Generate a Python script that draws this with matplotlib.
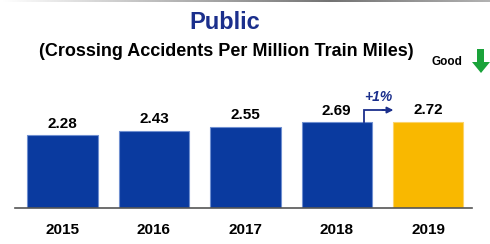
import numpy as np
import matplotlib
matplotlib.use("Agg")
from matplotlib import pyplot as plt
from matplotlib.patches import Polygon

plt.rcParams['font.family'] = ['Liberation Sans', 'DejaVu Sans']

years = ['2015', '2016', '2017', '2018', '2019']
values = [2.28, 2.43, 2.55, 2.69, 2.72]
value_labels = ['2.28', '2.43', '2.55', '2.69', '2.72']
change_label = '+1%'

navy = '#0a3a9f'
gold = '#f9b800'
title_color = '#1b2f8c'

W, H = 490, 244
fig = plt.figure(figsize=(W / 100, H / 100), dpi=100)

# thin gray gradient rule along the top
top = fig.add_axes([0, (H - 2) / H, 1, 2 / H])
grad = np.concatenate([np.linspace(1.0, 0.45, 330), np.linspace(0.45, 0.7, 160)])
top.imshow(grad[np.newaxis, :], cmap='gray', vmin=0, vmax=1, aspect='auto')
top.axis('off')

# bar axes
left, right = 15, 472
base, axtop = 208, 80
ax = fig.add_axes([left / W, (H - base) / H, (right - left) / W, (base - axtop) / H])
colors = [navy] * 4 + [gold]
x = np.arange(len(years))
bars = ax.bar(x, values, width=0.77, color=colors, edgecolor=['#6f8fd0'] * 4 + ['#fbd36a'], linewidth=0.8)
ax.set_xlim(-0.52, 4.48)
ax.set_ylim(0, 128 / 31.8)

for s in ['top', 'right', 'left']:
    ax.spines[s].set_visible(False)
ax.spines['bottom'].set_color('#555555')
ax.spines['bottom'].set_linewidth(1.2)
ax.set_yticks([])
ax.set_xticks(x)
ax.set_xticklabels(years, fontsize=11, fontweight='bold')
ax.tick_params(axis='x', length=0, pad=11)

for xi, v, lab in zip(x, values, value_labels):
    ax.annotate(lab, (xi, v), xytext=(0, 3.5), textcoords='offset points',
                ha='center', va='bottom', fontsize=11, fontweight='bold')

# change arrow from 2018 to 2019
ax.plot([3.30, 3.30, 3.52], [values[3], 3.08, 3.08], color=title_color, lw=1.3,
        solid_joinstyle='miter', clip_on=False)
ax.annotate('', xy=(3.62, 3.08), xytext=(3.50, 3.08),
            arrowprops=dict(arrowstyle='-|>', color=title_color, lw=1.3,
                            mutation_scale=9, shrinkA=0, shrinkB=0),
            annotation_clip=False)
ax.text(3.46, 3.28, change_label, ha='center', va='bottom', fontsize=10,
        fontweight='bold', fontstyle='italic', color=title_color, clip_on=False)

# titles
fig.text(225 / W, 1 - 23 / H, 'Public', ha='center', va='center', fontsize=17,
         fontweight='bold', color=title_color)
fig.text(226 / W, 1 - 51 / H, '(Crossing Accidents Per Million Train Miles)',
         ha='center', va='center', fontsize=13, fontweight='bold', color='black')
fig.text(447 / W, 1 - 62 / H, 'Good', ha='center', va='center', fontsize=8.5,
         fontweight='bold', color='black')

# green "good" arrow (pixel outline, top-left origin)
pts = [(477, 49), (484, 49), (484, 62), (490, 62), (481, 73), (472, 62), (477, 62)]
arr = Polygon([(px / W, 1 - py / H) for px, py in pts], closed=True,
              transform=fig.transFigure, facecolor='#1aa33a', edgecolor='none')
fig.patches.append(arr)

fig.savefig('out.png', dpi=100)
